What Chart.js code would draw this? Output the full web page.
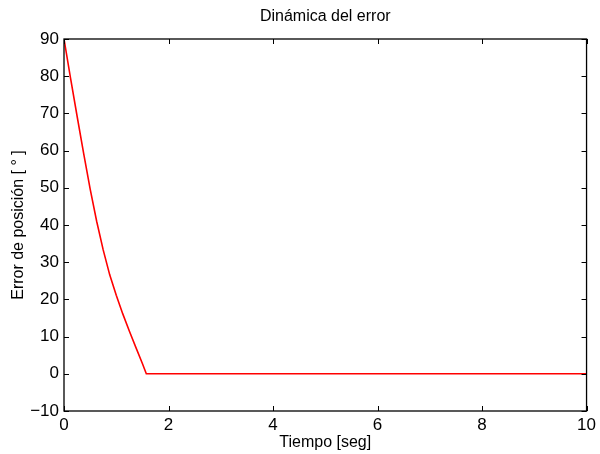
<!DOCTYPE html>
<html>
<head>
<meta charset="utf-8">
<script src="https://cdn.jsdelivr.net/npm/chart.js@4"></script>
<style>
  body { margin: 0; background: #fff; }
  #wrap { width: 600px; height: 454px; }
</style>
</head>
<body>
<div id="wrap"><canvas id="errorChart"></canvas></div>
<script>
// valores
var tiempo = [0, 0.125, 0.25, 0.375, 0.5, 0.625, 0.75, 0.875, 1.0, 1.125, 1.25, 1.375, 1.5, 1.575, 10];
var error  = [90, 79.5, 69.3, 59.3, 49.7, 41, 33.3, 26.6, 21.1, 16.1, 11.5, 7.1, 2.75, 0, 0];
var xTicks = [0, 2, 4, 6, 8, 10];
var yTicks = [-10, 0, 10, 20, 30, 40, 50, 60, 70, 80, 90];

var puntos = tiempo.map(function (t, i) { return { x: t, y: error[i] }; });

// marcas hacia adentro en los cuatro lados, estilo matlab
var marcasInternas = {
    id: 'marcasInternas',
    afterDraw: function (chart) {
        var ctx = chart.ctx;
        var a = chart.chartArea;
        var sx = chart.scales.x, sy = chart.scales.y;
        var len = 5;
        ctx.save();
        ctx.strokeStyle = '#000';
        ctx.lineWidth = 1;
        ctx.beginPath();
        xTicks.forEach(function (v) {
            var px = Math.round(sx.getPixelForValue(v)) + 0.5;
            ctx.moveTo(px, a.bottom); ctx.lineTo(px, a.bottom - len);
            ctx.moveTo(px, a.top); ctx.lineTo(px, a.top + len);
        });
        yTicks.forEach(function (v) {
            var py = Math.round(sy.getPixelForValue(v)) + 0.5;
            ctx.moveTo(a.left, py); ctx.lineTo(a.left + len, py);
            ctx.moveTo(a.right, py); ctx.lineTo(a.right - len, py);
        });
        ctx.stroke();
        ctx.lineWidth = 1.3;
        ctx.strokeRect(a.left, a.top, a.right - a.left, a.bottom - a.top);
        ctx.restore();
    }
};

var fuente = 'Liberation Sans';

var ctx1 = document.getElementById('errorChart').getContext('2d');
var errorChart = new Chart(ctx1, {
    type: 'line',
    data: {
        datasets: [
            {
                label: 'Error',
                data: puntos,
                borderColor: '#ff0000',
                borderWidth: 1.6,
                pointRadius: 0,
                tension: 0,
                fill: false
            }
        ]
    },
    options: {
        responsive: true,
        maintainAspectRatio: false,
        animation: false,
        layout: { padding: { left: 0, right: 11, top: 0, bottom: 0 } },
        plugins: {
            legend: { display: false },
            tooltip: { enabled: false },
            title: { display: false }
        },
        scales: {
            // eje superior solo para centrar el titulo sobre el area del grafico
            arriba: {
                type: 'linear',
                position: 'top',
                min: 0,
                max: 10,
                afterFit: function (scale) { scale.height = 39; },
                grid: { display: false, drawTicks: false },
                border: { display: false },
                ticks: { display: false },
                title: {
                    display: true,
                    text: 'Dinámica del error',
                    color: '#000',
                    font: { family: fuente, size: 16 },
                    padding: { top: 7, bottom: 0 }
                }
            },
            x: {
                type: 'linear',
                position: 'bottom',
                min: 0,
                max: 10,
                afterBuildTicks: function (scale) {
                    scale.ticks = xTicks.map(function (v) { return { value: v }; });
                },
                afterFit: function (scale) { scale.height = 43; },
                grid: { display: false, drawTicks: false },
                border: { display: false },
                ticks: {
                    color: '#000',
                    padding: 4,
                    maxRotation: 0,
                    font: { family: fuente, size: 17 }
                },
                title: {
                    display: true,
                    text: 'Tiempo [seg]',
                    color: '#000',
                    font: { family: fuente, size: 16 },
                    padding: { top: 0, bottom: 2 }
                }
            },
            y: {
                type: 'linear',
                min: -10,
                max: 90,
                afterBuildTicks: function (scale) {
                    scale.ticks = yTicks.map(function (v) { return { value: v }; });
                },
                afterFit: function (scale) { scale.width = 64; },
                grid: { display: false, drawTicks: false },
                border: { display: false },
                ticks: {
                    color: '#000',
                    padding: 5,
                    font: { family: fuente, size: 17 },
                    callback: function (v) { return v < 0 ? '\u2212' + Math.abs(v) : String(v); }
                },
                title: {
                    display: true,
                    text: 'Error de posición [ ° ]',
                    color: '#000',
                    font: { family: fuente, size: 16 },
                    padding: { top: 9, bottom: 0 }
                }
            }
        }
    },
    plugins: [marcasInternas]
});
</script>
</body>
</html>
